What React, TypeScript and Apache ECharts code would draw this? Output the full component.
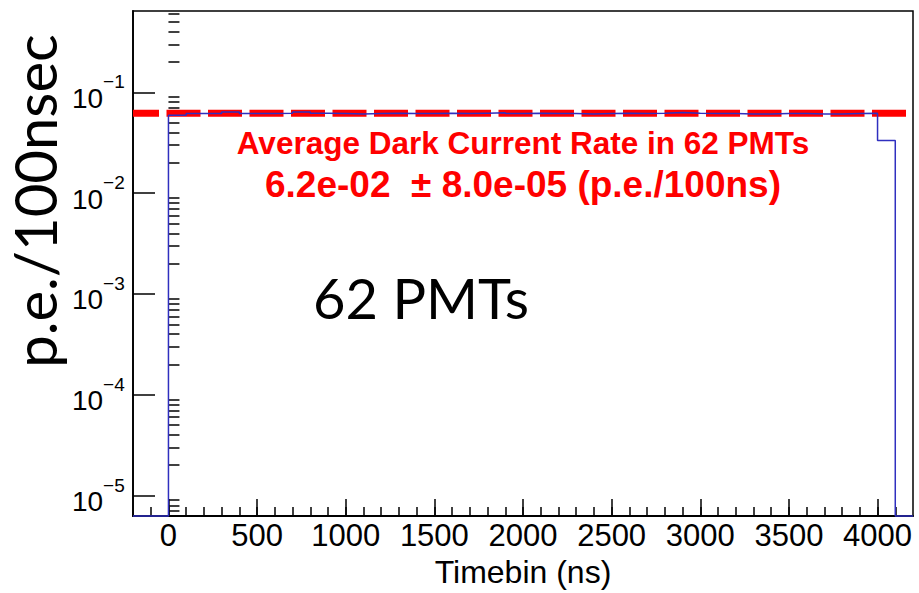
import React, { useEffect, useRef } from "react";
import * as echarts from "echarts";

// ---- data ----
const xMin = -200;
const xMax = 4200;
const xMajorTicks = [0, 500, 1000, 1500, 2000, 2500, 3000, 3500, 4000];
const xMinorStep = 100;
const binStart = 0;
const binWidth = 100;
const binValues = [
  0.0593, 0.0617, 0.0617, 0.0638, 0.0617, 0.0617, 0.0622, 0.0638, 0.062, 0.0617,
  0.0612, 0.0617, 0.0622, 0.0617, 0.0617, 0.062, 0.0617, 0.0622, 0.0628, 0.0617,
  0.0622, 0.0617, 0.0617, 0.0612, 0.0617, 0.062, 0.0617, 0.0622, 0.0632, 0.0622,
  0.0617, 0.0617, 0.0612, 0.0612, 0.0617, 0.0617, 0.0612, 0.0612, 0.0617, 0.0622,
  0.0334,
];
const averageRate = 0.062;
const yMinRate = 6.25e-6;
const yMaxRate = 0.643;
const yDecades = [-5, -4, -3, -2, -1];
const xAxisTitle = "Timebin (ns)";
const yAxisTitle = "p.e./100nsec";
const annotationLine1 = "Average Dark Current Rate in 62 PMTs";
const annotationLine2 = "6.2e-02  \u00b1 8.0e-05 (p.e./100ns)";
const pmtLabel = "62 PMTs";

const FONT = '"Liberation Sans", Arial, sans-serif';
const BIG_FONT = 'Lato, "Noto Sans", sans-serif';

export default function App() {
  const ref = useRef<HTMLDivElement>(null);

  useEffect(() => {
    if (!ref.current) return;
    const chart = echarts.init(ref.current, undefined, { renderer: "svg" });

    const yMin = Math.log10(yMinRate);
    const yMax = Math.log10(yMaxRate);

    const yMinor: number[] = [];
    for (let k = -6; k <= 0; k++) {
      for (let m = 2; m <= 9; m++) {
        const v = Math.log10(m * Math.pow(10, k));
        if (v > yMin && v < yMax) yMinor.push(v);
      }
    }
    const xMinor: number[] = [];
    for (let x = xMin + xMinorStep; x < xMax; x += xMinorStep) xMinor.push(x);

    const binEnd = binStart + binWidth * binValues.length;
    const hist: number[][] = [[xMin, yMin], [binStart, yMin]];
    binValues.forEach((v, i) => {
      const lo = binStart + i * binWidth;
      hist.push([lo, Math.log10(v)], [lo + binWidth, Math.log10(v)]);
    });
    hist.push([binEnd, yMin], [xMax, yMin]);

    const avgLog = Math.log10(averageRate);

    const supText = (v: number) => {
      const r = Math.round(v);
      return r < 0 ? "\u2212" + Math.abs(r) : String(r);
    };

    chart.setOption({
      animation: false,
      backgroundColor: "#fff",
      grid: {
        left: 133,
        top: 11,
        right: 6,
        bottom: 74,
        show: true,
        borderColor: "#000",
        borderWidth: 1.5,
        backgroundColor: "transparent",
      },
      xAxis: [
        {
          type: "value",
          min: xMin,
          max: xMax,
          position: "bottom",
          axisLine: { show: true, onZero: false, lineStyle: { color: "#000", width: 1.8 } },
          axisTick: {
            show: true,
            inside: true,
            length: 17,
            customValues: xMajorTicks,
            lineStyle: { color: "#000", width: 1.5 },
          },
          axisLabel: {
            customValues: xMajorTicks,
            formatter: (v: number) => String(Math.round(v)),
            fontSize: 31,
            fontFamily: FONT,
            color: "#000",
            margin: 4,
          },
          splitLine: { show: false },
          name: xAxisTitle,
          nameLocation: "middle",
          nameGap: 39,
          nameTextStyle: { fontSize: 32, fontFamily: FONT, color: "#000", verticalAlign: "top" },
        },
        {
          type: "value",
          min: xMin,
          max: xMax,
          position: "bottom",
          axisLine: { show: false },
          axisTick: {
            show: true,
            inside: true,
            length: 9,
            customValues: xMinor,
            lineStyle: { color: "#000", width: 1.5 },
          },
          axisLabel: { show: false },
          splitLine: { show: false },
        },
      ],
      yAxis: [
        {
          type: "value",
          min: yMin,
          max: yMax,
          position: "left",
          axisLine: { show: true, onZero: false, lineStyle: { color: "#000", width: 1.8 } },
          axisTick: {
            show: true,
            inside: true,
            length: 22,
            customValues: yDecades,
            lineStyle: { color: "#000", width: 1.5 },
          },
          axisLabel: {
            customValues: yDecades,
            margin: 8,
            formatter: (v: number) => `{b|10}{s|${supText(v)}}{p| }`,
            rich: {
              b: { fontSize: 28, fontFamily: FONT, color: "#000", lineHeight: 31, verticalAlign: "bottom" },
              s: { fontSize: 19, fontFamily: FONT, color: "#000", lineHeight: 32, verticalAlign: "top" },
              p: { fontSize: 1, lineHeight: 40 },
            },
          },
          splitLine: { show: false },
        },
        {
          type: "value",
          min: yMin,
          max: yMax,
          position: "left",
          axisLine: { show: false },
          axisTick: {
            show: true,
            inside: true,
            length: 11,
            customValues: yMinor,
            lineStyle: { color: "#000", width: 1.5 },
          },
          axisLabel: { show: false },
          splitLine: { show: false },
        },
      ],
      series: [
        {
          type: "line",
          name: "average",
          xAxisIndex: 0,
          yAxisIndex: 0,
          data: [[xMin, avgLog], [xMax, avgLog]],
          symbol: "none",
          lineStyle: { color: "#ff0000", width: 7, type: [34, 7.5], dashOffset: 8, cap: "butt" },
          z: 3,
          silent: true,
        },
        {
          type: "line",
          name: "histogram",
          xAxisIndex: 0,
          yAxisIndex: 0,
          data: hist,
          symbol: "none",
          clip: false,
          lineStyle: { color: "#2f2fbf", width: 1.5 },
          z: 4,
          silent: true,
        },
      ],
      graphic: [
        {
          type: "text",
          x: 523,
          y: 143,
          style: {
            text: annotationLine1,
            fill: "#ff0000",
            fontSize: 31.5,
            fontWeight: "bold",
            fontFamily: FONT,
            align: "center",
            verticalAlign: "middle",
          },
        },
        {
          type: "text",
          x: 523,
          y: 184,
          style: {
            text: annotationLine2,
            fill: "#ff0000",
            fontSize: 37,
            fontWeight: "bold",
            fontFamily: FONT,
            align: "center",
            verticalAlign: "middle",
          },
        },
        {
          type: "text",
          x: 421,
          y: 297,
          style: {
            text: pmtLabel,
            fill: "#000",
            fontSize: 56,
            fontFamily: BIG_FONT,
            align: "center",
            verticalAlign: "middle",
          },
        },
        {
          type: "text",
          x: 34,
          y: 201,
          rotation: Math.PI / 2,
          style: {
            text: yAxisTitle,
            fill: "#000",
            fontSize: 58,
            fontFamily: BIG_FONT,
            align: "center",
            verticalAlign: "middle",
          },
        },
      ],
    });

    return () => chart.dispose();
  }, []);

  return (
    <div
      ref={ref}
      style={{ position: "absolute", left: 0, top: 0, width: 919, height: 593, background: "#fff" }}
    />
  );
}
